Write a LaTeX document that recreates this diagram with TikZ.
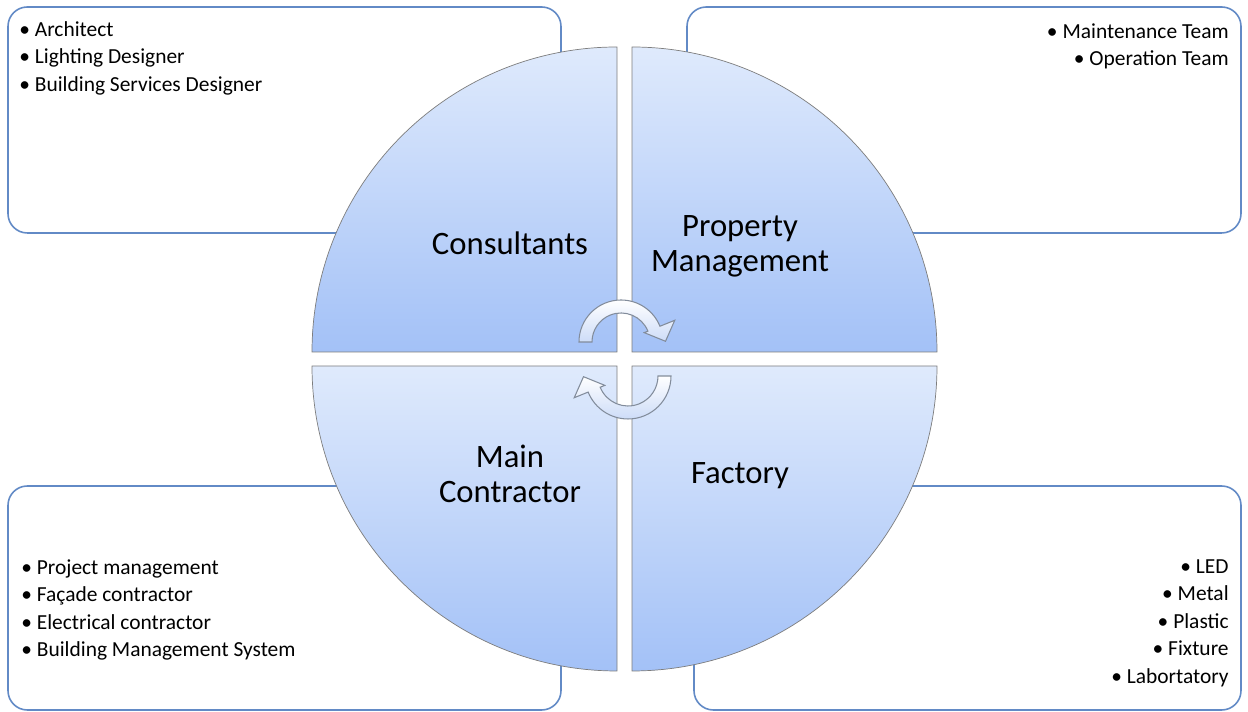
\documentclass[tikz,border=0pt]{standalone}
\usepackage{fontspec}
\setmainfont{Carlito}
\usepackage{tikz}

\definecolor{boxline}{RGB}{98,138,198}
\definecolor{quadlight}{RGB}{223,234,252}
\definecolor{quaddark}{RGB}{163,193,247}
\definecolor{quadedge}{RGB}{125,125,125}
\definecolor{arrowedge}{RGB}{130,140,155}
\definecolor{arrowdark}{RGB}{205,220,248}

\tikzset{
  listbox/.style={draw=boxline, line width=0.9pt, rounded corners=11pt, fill=white},
  quadrant/.style={draw=quadedge, line width=0.4pt, top color=quadlight, bottom color=quaddark},
  cyclearrow/.style={draw=arrowedge, line width=0.6pt, top color=white, bottom color=arrowdark},
  quadlabel/.style={font=\fontsize{18.6}{20}\selectfont, align=center, inner sep=0pt},
  itemlist/.style={font=\fontsize{12.2}{15.7}\selectfont, inner sep=0pt}
}

\begin{document}
\begin{tikzpicture}[x=0.02cm, y=0.02cm]
  \useasboundingbox (0,0) rectangle (1248,712);

  % the four text boxes
  \draw[listbox] (8,479) rectangle (561,705);
  \draw[listbox] (687,479) rectangle (1241,705);
  \draw[listbox] (8,2) rectangle (561,226);
  \draw[listbox] (694,2) rectangle (1241,226);

  % the circle, in four quarters
  \draw[quadrant] (617,360) -- (312,360) arc[start angle=180, end angle=90, radius=305] -- cycle;
  \draw[quadrant] (632,360) -- (632,665) arc[start angle=90, end angle=0, radius=305] -- cycle;
  \draw[quadrant] (617,346) -- (312,346) arc[start angle=180, end angle=270, radius=305] -- cycle;
  \draw[quadrant] (632,346) -- (937,346) arc[start angle=0, end angle=-90, radius=305] -- cycle;

  % arrows round the middle
  \begin{scope}[shift={(621,370)}]
    \draw[cyclearrow] (180:42) arc[start angle=180, end angle=22, radius=42]
      -- (22:58) -- (44.5,0.7) -- (22:25) -- (22:29)
      arc[start angle=22, end angle=180, radius=29] -- cycle;
  \end{scope}
  \begin{scope}[shift={(628,336)}]
    \draw[cyclearrow] (0:43) arc[start angle=0, end angle=-158, radius=43]
      -- (202:58) -- (-44.5,-0.7) -- (202:25) -- (202:30)
      arc[start angle=-158, end angle=0, radius=30] -- cycle;
  \end{scope}

  \node[quadlabel] (consultants) at (510,469) {Consultants};
  \node[quadlabel] (propmgmt) at (740,466) {Property\\Management};
  \node[quadlabel] (maincon) at (510,238) {Main\\Contractor};
  \node[quadlabel] (factory) at (740,236) {Factory};

  \node[itemlist, anchor=north west, align=left] (consultlist) at (19,691)
    {• Architect\\• Lighting Designer\\• Building Services Designer};
  \node[itemlist, anchor=north east, align=right] (propertylist) at (1229,689)
    {• Maintenance Team\\• Operation Team};
  \node[itemlist, anchor=north west, align=left] (contractlist) at (21,153)
    {• Project management\\• Façade contractor\\• Electrical contractor\\• Building Management System};
  \node[itemlist, anchor=north east, align=right] (factorylist) at (1229,153)
    {• LED\\• Metal\\• Plastic\\• Fixture\\• Labortatory};
\end{tikzpicture}
\end{document}
